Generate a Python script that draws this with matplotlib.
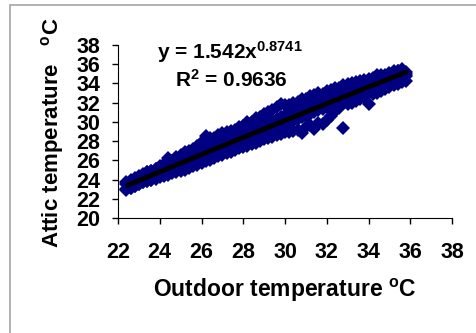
import matplotlib
matplotlib.use("Agg")
import matplotlib.pyplot as plt
from matplotlib.patches import Rectangle
import numpy as np

plt.rcParams["font.family"] = ["Liberation Sans", "DejaVu Sans"]
plt.rcParams["font.weight"] = "bold"
plt.rcParams["mathtext.fontset"] = "custom"
plt.rcParams["mathtext.rm"] = "Liberation Sans:bold"
plt.rcParams["mathtext.bf"] = "Liberation Sans:bold"
plt.rcParams["mathtext.default"] = "rm"

# outdoor temperature bins (degC)
outdoor = [
    22.4, 22.6, 22.8, 23.0, 23.2, 23.4, 23.6, 23.8, 24.0, 24.2, 24.4, 24.6,
    24.8, 25.0, 25.2, 25.4, 25.6, 25.8, 26.0, 26.2, 26.4, 26.6, 26.8, 27.0,
    27.2, 27.4, 27.6, 27.8, 28.0, 28.2, 28.4, 28.6, 28.8, 29.0, 29.2, 29.4,
    29.6, 29.8, 30.0, 30.2, 30.4, 30.6, 30.8, 31.0, 31.2, 31.4, 31.6, 31.8,
    32.0, 32.2, 32.4, 32.6, 32.8, 33.0, 33.2, 33.4, 33.6, 33.8, 34.0, 34.2,
    34.4, 34.6, 34.8, 35.0, 35.2, 35.4, 35.6, 35.8,
]
# attic temperature readings in each bin (degC), highest to lowest
attic_high = [
    23.7, 23.9, 24.1, 24.3, 24.5, 24.8, 24.9, 25.1, 25.4, 25.6, 26.2, 25.9,
    26.3, 26.6, 26.9, 27.0, 27.2, 27.5, 27.9, 28.5, 28.3, 28.3, 28.6, 28.8,
    28.9, 29.1, 29.2, 29.5, 29.6, 30.0, 30.0, 30.4, 30.5, 30.8, 31.0, 31.2,
    31.5, 31.9, 31.8, 31.8, 32.0, 32.1, 32.4, 32.4, 32.7, 32.8, 33.0, 32.9,
    33.2, 33.3, 33.5, 33.5, 33.8, 33.9, 34.0, 34.1, 34.3, 34.4, 34.5, 34.6,
    34.9, 34.9, 34.9, 35.1, 35.3, 35.3, 35.2, 35.2,
]
attic_mid_high = [
    23.5, 24.0, 24.2, 24.4, 24.6, 24.8, 24.9, 25.1, 25.3, 25.5, 25.7, 25.9,
    26.0, 26.2, 26.4, 26.6, 26.8, 26.9, 27.1, 27.3, 27.5, 27.6, 27.8, 28.0,
    28.2, 28.4, 28.5, 28.7, 28.9, 29.1, 29.2, 29.4, 29.6, 29.8, 29.9, 30.1,
    30.3, 30.5, 30.7, 30.8, 31.0, 31.2, 31.4, 31.5, 31.7, 31.9, 32.1, 32.2,
    32.4, 32.6, 32.8, 32.9, 33.1, 33.3, 33.4, 33.6, 33.8, 34.0, 34.1, 34.3,
    34.5, 34.7, 34.8, 35.0, 35.2, 35.3, 35.5, 35.0,
]
attic_mid_low = [
    23.0, 23.1, 23.3, 23.5, 23.7, 23.9, 24.0, 24.2, 24.4, 24.6, 24.8, 24.9,
    25.1, 25.3, 25.5, 25.7, 25.8, 26.0, 26.2, 26.4, 26.6, 26.7, 26.9, 27.1,
    27.3, 27.5, 27.6, 27.8, 28.0, 28.2, 28.3, 28.5, 28.7, 28.9, 29.0, 29.2,
    29.4, 29.6, 29.8, 29.9, 30.1, 30.3, 30.5, 30.6, 30.8, 31.0, 31.2, 31.3,
    31.5, 31.7, 31.8, 32.0, 32.2, 32.4, 32.5, 32.7, 32.9, 33.1, 33.2, 33.4,
    33.6, 33.8, 33.9, 34.1, 34.3, 34.4, 34.6, 34.8,
]
attic_low = [
    22.9, 23.1, 23.3, 23.5, 23.7, 23.8, 24.0, 24.1, 24.3, 24.4, 24.5, 24.7,
    24.8, 24.9, 25.0, 25.2, 25.4, 25.5, 25.7, 25.9, 26.0, 26.2, 26.4, 26.6,
    26.8, 26.9, 27.1, 27.3, 27.4, 27.5, 27.7, 27.8, 28.0, 28.2, 28.3, 28.4,
    28.6, 28.7, 28.9, 29.0, 29.1, 29.2, 28.8, 29.5, 29.7, 29.3, 29.9, 29.8,
    30.2, 30.6, 31.1, 31.4, 29.4, 31.9, 32.0, 32.2, 32.4, 32.6, 31.9, 32.9,
    33.0, 33.2, 33.4, 33.6, 33.8, 33.9, 34.1, 34.3,
]

# power trendline y = a * x^b
fit_a = 1.542
fit_b = 0.8741
fit_r2 = 0.9636

xticks = [22, 24, 26, 28, 30, 32, 34, 36, 38]
yticks = [20, 22, 24, 26, 28, 30, 32, 34, 36, 38]

fig = plt.figure(figsize=(4.76, 3.33), dpi=100)
ax = fig.add_axes([118 / 476, 1 - 218 / 333, 334 / 476, 173 / 333])

for row in [attic_high, attic_mid_high, attic_mid_low, attic_low]:
    ax.plot(outdoor, row, linestyle="none", marker="D", markersize=7.5,
            color="#000080", markeredgewidth=0)

xs = np.linspace(22.45, max(outdoor), 60)
ax.plot(xs, fit_a * xs ** fit_b, color="black", linewidth=3.5, solid_capstyle="round")

ax.set_xlim(22, 38)
ax.set_ylim(20, 38)
ax.set_xticks(xticks)
ax.set_yticks(yticks)
ax.tick_params(axis="both", direction="out", length=4, width=1, labelsize=15.5)
ax.tick_params(axis="x", pad=13)
ax.tick_params(axis="y", pad=9)
for s in ["top", "right"]:
    ax.spines[s].set_visible(False)

ax.text(0.117, 0.96, f"y = {fit_a}x$^{{{fit_b}}}$", transform=ax.transAxes,
        fontsize=15, ha="left", va="center")
ax.text(0.171, 0.80, f"R$^{{2}}$ = {fit_r2}", transform=ax.transAxes,
        fontsize=15, ha="left", va="center")

fig.text(52 / 476, 1 - 133 / 333, "Attic temperature   $^{o}$C", rotation=90,
         fontsize=16, ha="center", va="center")
fig.text(285 / 476, 1 - 290 / 333, "Outdoor temperature $^{o}$C",
         fontsize=16.5, ha="center", va="center")

# outer frame, open on the right and bottom
fig.patches.append(Rectangle((10 / 476, -0.1), 1.2, 1 - 5 / 333 + 0.1,
                             transform=fig.transFigure, fill=False,
                             edgecolor="#a6a6a6", linewidth=1.2))

fig.savefig("out.png", dpi=100)
